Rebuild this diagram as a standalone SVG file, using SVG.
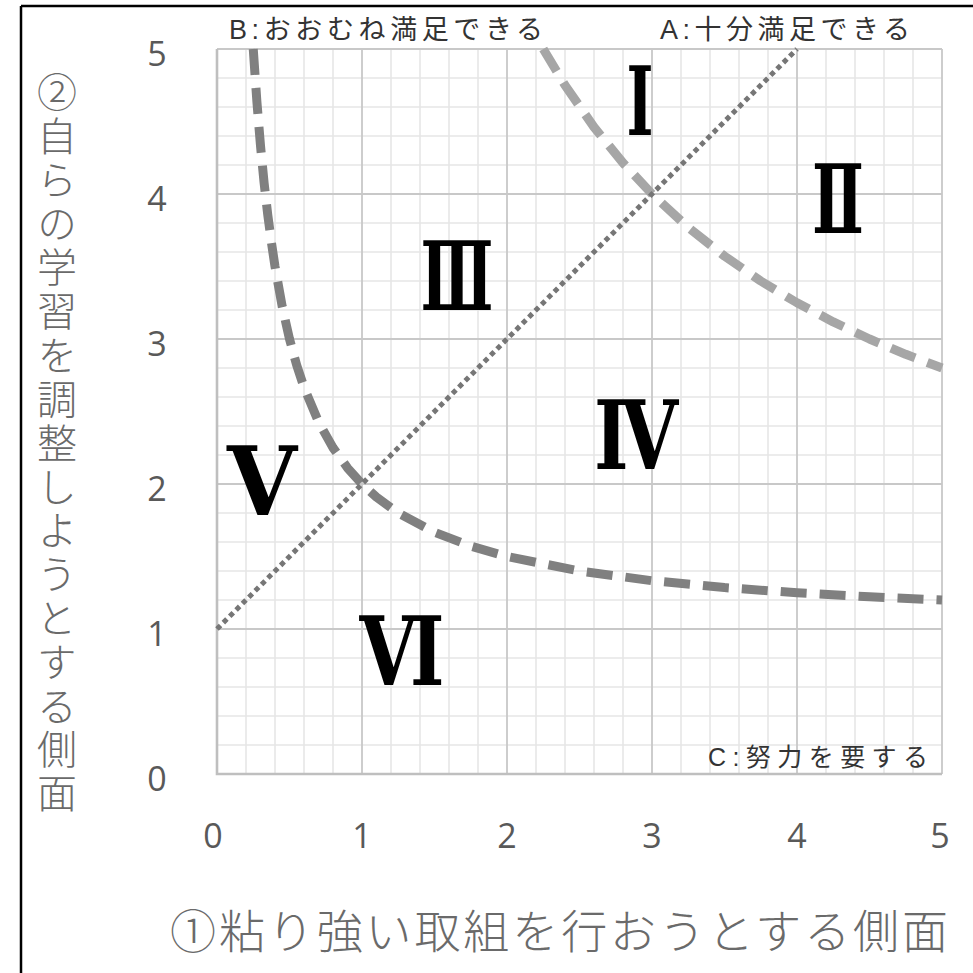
<svg xmlns="http://www.w3.org/2000/svg" width="973" height="973" viewBox="0 0 973 973">
<style>
.minor{stroke:#e6e6e6;stroke-width:1.6;fill:none}
.major{stroke:#c8c8c8;stroke-width:1.8;fill:none}
.axis{stroke:#bfbfbf;stroke-width:2.6;fill:none}
.tick{font-family:"Open Sans","Liberation Sans",sans-serif;font-size:34px;fill:#595959;text-anchor:middle}
.lab{font-family:"Liberation Sans","Noto Sans CJK JP",sans-serif;fill:#333333}
.title{font-family:"Noto Sans CJK JP","Noto Sans CJK SC",sans-serif;fill:#6a6a6a;font-weight:300}
.rn{font-family:"DejaVu Serif","Liberation Serif",serif;font-weight:bold;font-size:95px;fill:#000;text-anchor:middle}
.curveC{stroke:#808080;stroke-width:9;fill:none;stroke-dasharray:26 13;stroke-linejoin:round}
.curveA{stroke:#a6a6a6;stroke-width:9;fill:none;stroke-dasharray:26 13;stroke-linejoin:round}
.diag{stroke:#767676;stroke-width:5;fill:none;stroke-dasharray:5 4}
</style>
<rect width="973" height="973" fill="#ffffff"/>
<g id="frame">
<path d="M21 6H973M21 6V973" stroke="#000" stroke-width="2.5" fill="none"/>
</g>
<g id="grid">
<path class="minor" d="M246 49V774M275 49V774M304 49V774M333 49V774M391 49V774M420 49V774M449 49V774M478 49V774M536 49V774M565 49V774M594 49V774M623 49V774M681 49V774M710 49V774M739 49V774M768 49V774M826 49V774M855 49V774M884 49V774M913 49V774"/>
<path class="minor" d="M217 745H942M217 716H942M217 687H942M217 658H942M217 600H942M217 571H942M217 542H942M217 513H942M217 455H942M217 426H942M217 397H942M217 368H942M217 310H942M217 281H942M217 252H942M217 223H942M217 165H942M217 136H942M217 107H942M217 78H942"/>
<path class="major" d="M362 49V774M507 49V774M652 49V774M797 49V774M942 49V774M217 629H942M217 484H942M217 339H942M217 194H942M217 49H942"/>
<path class="axis" d="M217 49V774H942"/>
</g>
<g id="ticks">
<text class="tick" x="157" y="66">5</text>
<text class="tick" x="157" y="211">4</text>
<text class="tick" x="157" y="356">3</text>
<text class="tick" x="157" y="501">2</text>
<text class="tick" x="157" y="646">1</text>
<text class="tick" x="157" y="791">0</text>
<text class="tick" x="213" y="848">0</text>
<text class="tick" x="362" y="848">1</text>
<text class="tick" x="507" y="848">2</text>
<text class="tick" x="652" y="848">3</text>
<text class="tick" x="797" y="848">4</text>
<text class="tick" x="940" y="848">5</text>
</g>
<g id="connectors">
<path id="lineC" class="curveC" d="M253.25 49L256.9 101.8L260.5 145.7L264.1 182.9L267.75 214.7L271.4 242.3L275 266.5L282.25 306.8L289.5 339L296.75 365.4L304 387.3L318.5 421.9L333 447.75L347.5 467.9L362 484L376.5 497.2L398.25 513L434.5 532.3L470.75 546.1L507 556.5L579.5 571L652 580.7L724.5 587.6L797 592.75L869.5 596.8L942 600"/>
<path id="lineA" class="curveA" d="M543.25 49L565 85.25L594 127.1L623 162.9L652 194L688.25 227.5L724.5 256.1L760.75 281L797 302.75L833.25 321.9L869.5 339L905.75 354.3L942 368"/>
<path id="diagonal" class="diag" d="M217 629L797 49"/>
</g>
<g id="labelB"><text class="lab" x="229" y="39" font-size="27" textLength="314" lengthAdjust="spacing">B:おおむね満足できる</text></g>
<g id="labelA"><text class="lab" x="660" y="39" font-size="27" textLength="250" lengthAdjust="spacing">A:十分満足できる</text></g>
<g id="labelC"><text class="lab" x="708" y="766" font-size="25" textLength="220" lengthAdjust="spacing">C:努力を要する</text></g>
<g id="region1"><text class="rn" x="640" y="135" textLength="27" lengthAdjust="spacingAndGlyphs">Ⅰ</text></g>
<g id="region2"><text class="rn" x="838" y="233" textLength="52" lengthAdjust="spacingAndGlyphs">Ⅱ</text></g>
<g id="region3"><text class="rn" x="457" y="310" textLength="73" lengthAdjust="spacingAndGlyphs">Ⅲ</text></g>
<g id="region4"><text class="rn" x="636" y="469" textLength="84" lengthAdjust="spacingAndGlyphs">Ⅳ</text></g>
<g id="region5"><text class="rn" x="262" y="515" textLength="70" lengthAdjust="spacingAndGlyphs">Ⅴ</text></g>
<g id="region6"><text class="rn" x="402" y="685" textLength="85" lengthAdjust="spacingAndGlyphs">Ⅵ</text></g>
<g id="ytitle"><text class="title" x="57" y="72" font-size="40" style="writing-mode:vertical-rl" textLength="741" lengthAdjust="spacing">②自らの学習を調整しようとする側面</text></g>
<g id="xtitle"><text class="title" x="170" y="948" font-size="46" textLength="778" lengthAdjust="spacing">①粘り強い取組を行おうとする側面</text></g>
</svg>
